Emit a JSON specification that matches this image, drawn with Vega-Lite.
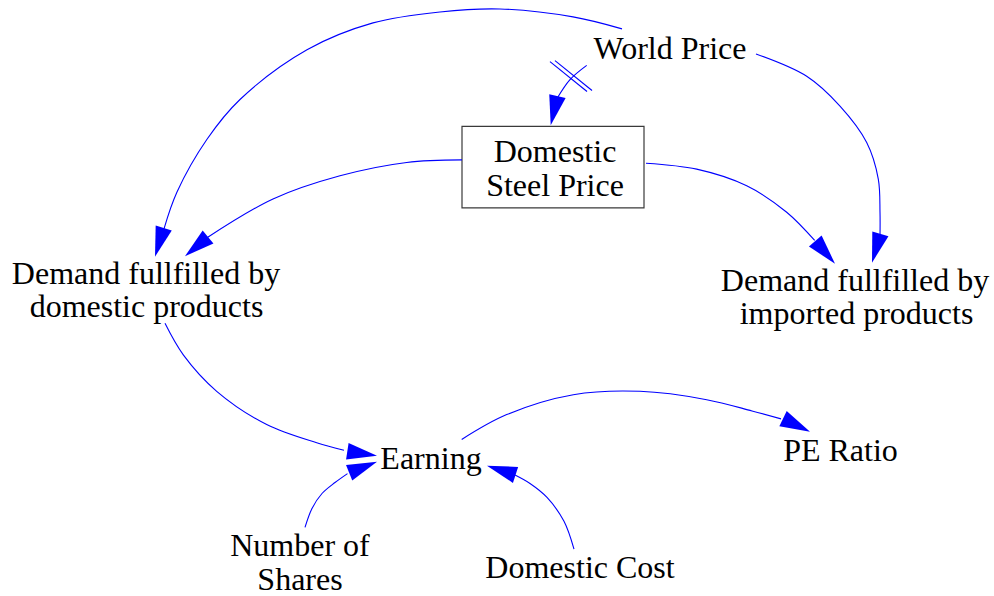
{
  "$schema": "https://vega.github.io/schema/vega-lite/v6.json",
  "width": 994,
  "height": 596,
  "autosize": {"type": "fit", "contains": "padding"},
  "padding": 0,
  "background": "white",
  "config": {"view": {"stroke": null}},
  "datasets": {
    "box": [{"x1": 462, "x2": 644, "y1": 127, "y2": 209}],
    "edges": [
      {"edge": "wp_dom", "i": 0, "x": 622, "y": 29},
      {"edge": "wp_dom", "i": 1, "x": 573, "y": 17},
      {"edge": "wp_dom", "i": 2, "x": 500, "y": 9},
      {"edge": "wp_dom", "i": 3, "x": 440, "y": 12},
      {"edge": "wp_dom", "i": 4, "x": 373, "y": 23},
      {"edge": "wp_dom", "i": 5, "x": 307, "y": 50},
      {"edge": "wp_dom", "i": 6, "x": 240, "y": 100},
      {"edge": "wp_dom", "i": 7, "x": 207, "y": 140},
      {"edge": "wp_dom", "i": 8, "x": 177, "y": 193},
      {"edge": "wp_dom", "i": 9, "x": 164, "y": 230},
      {"edge": "sp_dom", "i": 0, "x": 462, "y": 160.7},
      {"edge": "sp_dom", "i": 1, "x": 406.7, "y": 163.3},
      {"edge": "sp_dom", "i": 2, "x": 340, "y": 176.7},
      {"edge": "sp_dom", "i": 3, "x": 273, "y": 200},
      {"edge": "sp_dom", "i": 4, "x": 207, "y": 239},
      {"edge": "wp_sp", "i": 0, "x": 586.7, "y": 65.7},
      {"edge": "wp_sp", "i": 1, "x": 570, "y": 80},
      {"edge": "wp_sp", "i": 2, "x": 557, "y": 99},
      {"edge": "wp_imp", "i": 0, "x": 756, "y": 54.3},
      {"edge": "wp_imp", "i": 1, "x": 806.7, "y": 76.7},
      {"edge": "wp_imp", "i": 2, "x": 840, "y": 106.7},
      {"edge": "wp_imp", "i": 3, "x": 866.7, "y": 143.3},
      {"edge": "wp_imp", "i": 4, "x": 878.3, "y": 180},
      {"edge": "wp_imp", "i": 5, "x": 880, "y": 213.3},
      {"edge": "wp_imp", "i": 6, "x": 880, "y": 237.5},
      {"edge": "sp_imp", "i": 0, "x": 646, "y": 164},
      {"edge": "sp_imp", "i": 1, "x": 696.7, "y": 170},
      {"edge": "sp_imp", "i": 2, "x": 746.7, "y": 186.7},
      {"edge": "sp_imp", "i": 3, "x": 786.7, "y": 213.3},
      {"edge": "sp_imp", "i": 4, "x": 814.7, "y": 241.7},
      {"edge": "dom_earn", "i": 0, "x": 165, "y": 325},
      {"edge": "dom_earn", "i": 1, "x": 183.3, "y": 356.7},
      {"edge": "dom_earn", "i": 2, "x": 216.7, "y": 393.3},
      {"edge": "dom_earn", "i": 3, "x": 266.7, "y": 426.7},
      {"edge": "dom_earn", "i": 4, "x": 316.7, "y": 445},
      {"edge": "dom_earn", "i": 5, "x": 344, "y": 452.5},
      {"edge": "sh_earn", "i": 0, "x": 305, "y": 530},
      {"edge": "sh_earn", "i": 1, "x": 312, "y": 511},
      {"edge": "sh_earn", "i": 2, "x": 322, "y": 496},
      {"edge": "sh_earn", "i": 3, "x": 335, "y": 485},
      {"edge": "sh_earn", "i": 4, "x": 347.5, "y": 476},
      {"edge": "cost_earn", "i": 0, "x": 574, "y": 552},
      {"edge": "cost_earn", "i": 1, "x": 564, "y": 524},
      {"edge": "cost_earn", "i": 2, "x": 547, "y": 500},
      {"edge": "cost_earn", "i": 3, "x": 530, "y": 486},
      {"edge": "cost_earn", "i": 4, "x": 515, "y": 477.5},
      {"edge": "earn_pe", "i": 0, "x": 461.7, "y": 441.7},
      {"edge": "earn_pe", "i": 1, "x": 506.7, "y": 416.7},
      {"edge": "earn_pe", "i": 2, "x": 573.3, "y": 396.7},
      {"edge": "earn_pe", "i": 3, "x": 640, "y": 393.3},
      {"edge": "earn_pe", "i": 4, "x": 706.7, "y": 401.7},
      {"edge": "earn_pe", "i": 5, "x": 752, "y": 413},
      {"edge": "earn_pe", "i": 6, "x": 781, "y": 421}
    ],
    "heads": [
      {"edge": "wp_dom", "x": 155, "y": 258, "dir": 196.9},
      {"edge": "sp_dom", "x": 185, "y": 257.5, "dir": 230.2},
      {"edge": "wp_sp", "x": 550.7, "y": 126, "dir": 193},
      {"edge": "wp_imp", "x": 872, "y": 264, "dir": 196.2},
      {"edge": "sp_imp", "x": 835, "y": 265, "dir": 138.9},
      {"edge": "dom_earn", "x": 377, "y": 458, "dir": 98.6},
      {"edge": "sh_earn", "x": 377, "y": 464, "dir": 68.2},
      {"edge": "cost_earn", "x": 487, "y": 468, "dir": 288},
      {"edge": "earn_pe", "x": 810, "y": 434, "dir": 116}
    ],
    "delay": [
      {"x": 550, "y": 62, "x2": 587, "y2": 92},
      {"x": 555, "y": 61, "x2": 592, "y2": 91}
    ],
    "labels": [
      {"node": "World Price", "text": "World Price", "x": 670, "y": 59},
      {"node": "Domestic Steel Price", "text": "Domestic", "x": 555, "y": 163},
      {"node": "Domestic Steel Price", "text": "Steel Price", "x": 555, "y": 197},
      {"node": "Demand fullfilled by domestic products", "text": "Demand fullfilled by", "x": 146, "y": 285},
      {"node": "Demand fullfilled by domestic products", "text": "domestic products", "x": 146.5, "y": 318.5},
      {"node": "Demand fullfilled by imported products", "text": "Demand fullfilled by", "x": 855, "y": 292.5},
      {"node": "Demand fullfilled by imported products", "text": "imported products", "x": 856.5, "y": 326},
      {"node": "Earning", "text": "Earning", "x": 431, "y": 471.5},
      {"node": "PE Ratio", "text": "PE Ratio", "x": 840.5, "y": 463.3},
      {"node": "Number of Shares", "text": "Number of", "x": 300, "y": 559.3},
      {"node": "Number of Shares", "text": "Shares", "x": 300, "y": 593},
      {"node": "Domestic Cost", "text": "Domestic Cost", "x": 580, "y": 580.7}
    ]
  },
  "layer": [
    {
      "data": {"name": "box"},
      "mark": {"type": "rect", "fill": "white", "stroke": "#3a3a3a", "strokeWidth": 1.2},
      "encoding": {
        "x": {"field": "x1", "type": "quantitative", "scale": {"domain": [0, 994], "nice": false, "zero": false}, "axis": null},
        "x2": {"field": "x2"},
        "y": {"field": "y1", "type": "quantitative", "scale": {"domain": [0, 596], "reverse": true, "nice": false, "zero": false}, "axis": null},
        "y2": {"field": "y2"}
      }
    },
    {
      "data": {"name": "edges"},
      "mark": {"type": "line", "interpolate": "catmull-rom", "color": "#0000ff", "strokeWidth": 1.1},
      "encoding": {
        "x": {"field": "x", "type": "quantitative", "scale": {"domain": [0, 994], "nice": false, "zero": false}, "axis": null},
        "y": {"field": "y", "type": "quantitative", "scale": {"domain": [0, 596], "reverse": true, "nice": false, "zero": false}, "axis": null},
        "detail": {"field": "edge", "type": "nominal"},
        "order": {"field": "i", "type": "quantitative"}
      }
    },
    {
      "data": {"name": "delay"},
      "mark": {"type": "rule", "color": "#0000ff", "strokeWidth": 1.1},
      "encoding": {
        "x": {"field": "x", "type": "quantitative", "scale": {"domain": [0, 994], "nice": false, "zero": false}, "axis": null},
        "y": {"field": "y", "type": "quantitative", "scale": {"domain": [0, 596], "reverse": true, "nice": false, "zero": false}, "axis": null},
        "x2": {"field": "x2"},
        "y2": {"field": "y2"}
      }
    },
    {
      "data": {"name": "heads"},
      "mark": {"type": "point", "shape": "M0,0L0.28,1L-0.28,1Z", "filled": true, "color": "#0000ff", "opacity": 1, "size": 3600, "strokeWidth": 0},
      "encoding": {
        "x": {"field": "x", "type": "quantitative", "scale": {"domain": [0, 994], "nice": false, "zero": false}, "axis": null},
        "y": {"field": "y", "type": "quantitative", "scale": {"domain": [0, 596], "reverse": true, "nice": false, "zero": false}, "axis": null},
        "angle": {"field": "dir", "type": "quantitative", "scale": null}
      }
    },
    {
      "data": {"name": "labels"},
      "mark": {"type": "text", "font": "Liberation Serif", "fontSize": 32, "align": "center", "baseline": "alphabetic", "color": "#000000"},
      "encoding": {
        "x": {"field": "x", "type": "quantitative", "scale": {"domain": [0, 994], "nice": false, "zero": false}, "axis": null},
        "y": {"field": "y", "type": "quantitative", "scale": {"domain": [0, 596], "reverse": true, "nice": false, "zero": false}, "axis": null},
        "text": {"field": "text", "type": "nominal"}
      }
    }
  ]
}
